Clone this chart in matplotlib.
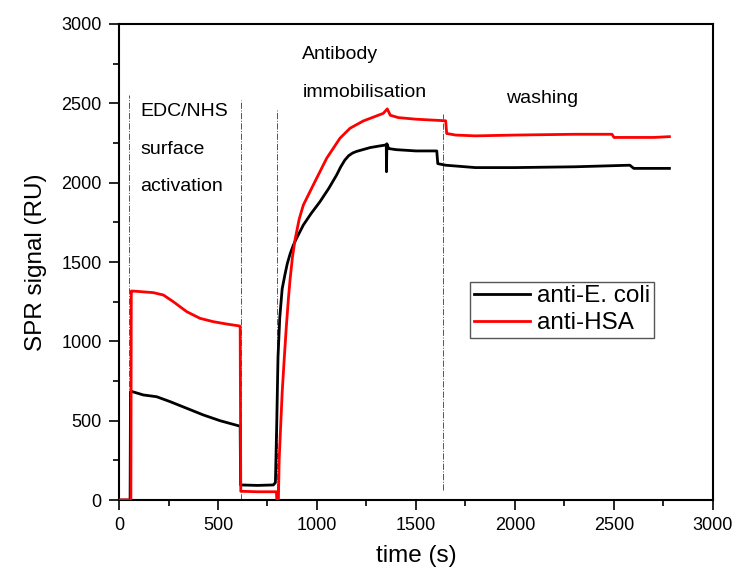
import matplotlib
matplotlib.use("Agg")
import matplotlib.pyplot as plt
from matplotlib.ticker import MultipleLocator

plt.rcParams['font.family'] = ['Liberation Sans', 'DejaVu Sans']

# anti-E. coli (black)
t_ecoli = [0, 56, 58, 67, 123, 190, 258, 342, 426, 510, 603, 612, 614, 700, 780, 790, 797,
           803, 812, 824, 838, 850, 864, 880, 895, 931, 970, 1015, 1060, 1099, 1120, 1141,
           1160, 1180, 1200, 1268, 1310, 1350, 1351, 1353, 1362, 1400, 1500, 1605, 1610, 1650,
           1800, 2000, 2300, 2580, 2600, 2780]
sig_ecoli = [0, 0, 683, 683, 662, 651, 620, 578, 536, 500, 468, 465, 95, 92, 95, 110, 500,
             900, 1150, 1330, 1420, 1490, 1550, 1605, 1645, 1733, 1805, 1880, 1965, 2048, 2100, 2143,
             2170, 2187, 2197, 2221, 2230, 2238, 2069, 2245, 2215, 2208, 2200, 2200, 2120, 2110,
             2095, 2095, 2100, 2110, 2090, 2090]

# anti-HSA (red)
t_hsa = [0, 60, 62, 69, 173, 224, 274, 342, 409, 476, 544, 608, 612, 615, 700, 795, 797,
         805, 809, 817, 824, 835, 845, 855, 864, 876, 889, 910, 931, 981, 1049, 1116, 1167,
         1234, 1335, 1355, 1370, 1411, 1500, 1650, 1655, 1700, 1800, 2000, 2300, 2490, 2500,
         2700, 2780]
sig_hsa = [0, 0, 1317, 1317, 1307, 1292, 1250, 1187, 1145, 1124, 1109, 1097, 1095, 55, 52, 52, 0,
           0, 256, 480, 675, 900, 1090, 1260, 1390, 1530, 1640, 1770, 1859, 1985, 2154, 2280, 2343,
           2389, 2437, 2465, 2425, 2410, 2400, 2390, 2310, 2300, 2295, 2300, 2305, 2305, 2285,
           2285, 2290]

# phase boundaries (dash-dot markers)
phase_t = [50, 617, 799, 1634]
phase_top = [2550, 2520, 2460, 2430]
phase_bottom = [0, 0, 0, 60]

phase_labels = ["EDC/NHS", "surface", "activation", "Antibody", "immobilisation", "washing"]
phase_label_t = [106, 106, 106, 926, 926, 1953]
phase_label_y = [2417, 2180, 1948, 2781, 2543, 2505]

fig = plt.figure(figsize=(7.36, 5.74), dpi=100)
ax = fig.add_axes([0.1617, 0.1289, 0.807, 0.8293])

for x, top, bot in zip(phase_t, phase_top, phase_bottom):
    ax.plot([x, x], [bot, top], color='#555555', lw=0.7, ls='-.', zorder=1)

ax.plot(t_ecoli, sig_ecoli, color='black', lw=2, label='anti-E. coli', zorder=3)
ax.plot(t_hsa, sig_hsa, color='#ff0000', lw=2, label='anti-HSA', zorder=4)

for s, x, y in zip(phase_labels, phase_label_t, phase_label_y):
    ax.text(x, y, s, fontsize=14, ha='left', va='baseline')

ax.set_xlim(0, 3000)
ax.set_ylim(0, 3000)
ax.xaxis.set_major_locator(MultipleLocator(500))
ax.xaxis.set_minor_locator(MultipleLocator(250))
ax.yaxis.set_major_locator(MultipleLocator(500))
ax.yaxis.set_minor_locator(MultipleLocator(250))
ax.tick_params(which='major', direction='out', length=7.5, width=1.2, labelsize=13, pad=5)
ax.tick_params(which='minor', direction='out', length=4.3, width=1.2)
for sp in ax.spines.values():
    sp.set_linewidth(1.5)

ax.set_xlabel('time (s)', fontsize=17.5, labelpad=8)
ax.set_ylabel('SPR signal (RU)', fontsize=17.5, labelpad=10)

leg = ax.legend(loc='upper left', bbox_to_anchor=(0.591, 0.459), fontsize=17.5,
                frameon=True, fancybox=False, edgecolor='#555555', framealpha=1,
                borderpad=0.15, handletextpad=0.3, handlelength=2.3, labelspacing=0.2,
                borderaxespad=0)
leg.get_frame().set_linewidth(1.0)

fig.savefig('out.png', dpi=100)
